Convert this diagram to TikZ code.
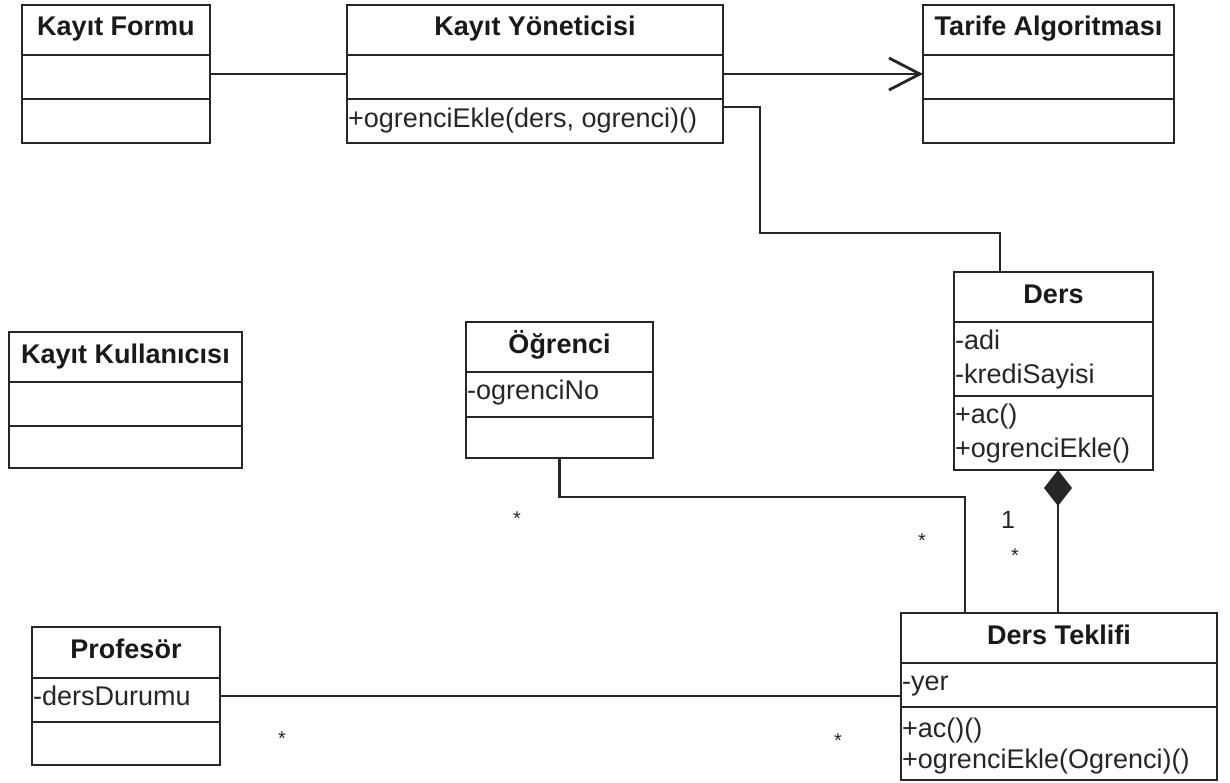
\documentclass[tikz,border=0pt]{standalone}
\usepackage{fontspec}
\setmainfont{Liberation Sans}
\usetikzlibrary{arrows.meta,calc}

% One UML class: name, left, top, right, bottom, first divider, second divider, title
\newcommand\umlclass[8]{%
  \node[classbox, minimum width={#4-#2}, minimum height={#5-#3}] (#1) at ({(#2+#4)/2},{(#3+#5)/2}) {};
  \draw[divider] (#2,#6) -- (#4,#6) (#2,#7) -- (#4,#7);
  \node[classname] (#1-title) at ({(#2+#4)/2},{#3+31}) {#8};
}

\begin{document}
\begin{tikzpicture}[x=1pt,y=-1pt,
  ink/.style={draw=black!85, line width=2.8pt},
  classbox/.style={ink, rectangle, inner sep=0pt, outer sep=0pt},
  divider/.style={ink},
  classname/.style={anchor=base, inner sep=0pt, font=\fontsize{27}{32}\selectfont\bfseries, text=black!90},
  member/.style={anchor=base west, inner sep=0pt, font=\fontsize{27}{32}\selectfont, text=black!85},
  mult/.style={inner sep=0pt, font=\fontsize{20}{24}\selectfont, text=black!85},
  link/.style={ink, line join=miter},
]
\useasboundingbox (0,0) rectangle (1230,783);

% classes
\umlclass{kf}{22}{5}{210}{143}{55}{99}{Kayıt Formu}
\umlclass{ky}{347}{5}{723}{143}{55}{99}{Kayıt Yöneticisi}
\umlclass{ta}{923}{5}{1174}{143}{55}{99}{Tarife Algoritması}
\umlclass{ders}{954}{272}{1153}{470}{322}{396}{Ders}
\umlclass{ku}{9}{332}{242}{468}{382}{426}{Kayıt Kullanıcısı}
\umlclass{ogr}{466}{322}{653}{458}{372}{417}{Öğrenci}
\umlclass{prof}{32}{627}{220}{765}{678}{722}{Profesör}
\umlclass{dt}{901}{613}{1217}{780}{663}{707}{Ders Teklifi}

% attributes and operations
\node[member] (ky-m1) at (348,128) {+ogrenciEkle(ders, ogrenci)()};
\node[member] (ders-a1) at (955,349) {-adi};
\node[member] (ders-a2) at (955,383) {-krediSayisi};
\node[member] (ders-m1) at (955,423) {+ac()};
\node[member] (ders-m2) at (955,457) {+ogrenciEkle()};
\node[member] (ogr-a1) at (467,399) {-ogrenciNo};
\node[member] (prof-a1) at (33,705) {-dersDurumu};
\node[member] (dt-a1) at (902,690) {-yer};
\node[member] (dt-m1) at (902,737) {+ac()()};
\node[member] (dt-m2) at (902,768) {+ogrenciEkle(Ogrenci)()};

% associations
\draw[link] (kf.east) -- (ky.west);
\draw[link, -{Straight Barb[length=31pt, width=32pt]}] (ky.east) -- (ta.west);
\draw[link] ($(ky.east)+(0,33)$) -| (760,233) -| ($(ders.north west)+(46,0)$);
\draw[link] (ogr.south) |- ($(dt.north west)+(64,-116)$) -- ($(dt.north west)+(64,0)$);
\draw[link] (prof.east) -- (prof.east -| dt.west);

% composition
\coordinate (comp) at ($(ders.south)+(4.5,0)$);
\draw[link, -{Diamond[length=36pt, width=28pt]}] (comp |- dt.north) -- (comp);

% multiplicities
\node[mult] (m-ogr) at (517,519) {*};
\node[mult] (m-dt1) at (922,541) {*};
\node[mult] (m-dt2) at (1015,556) {*};
\node[mult, font=\fontsize{25}{30}\selectfont] (m-one) at (1008,520) {1};
\node[mult] (m-prof) at (282,739) {*};
\node[mult] (m-dt3) at (838,741) {*};
\end{tikzpicture}
\end{document}
